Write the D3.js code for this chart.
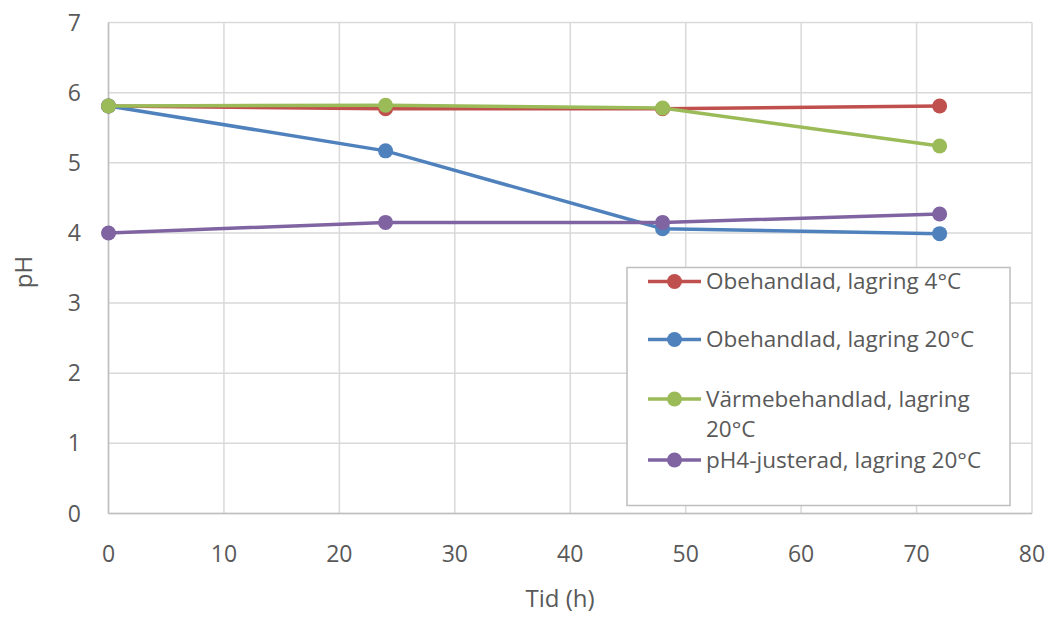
<!DOCTYPE html>
<html>
<head>
<meta charset="utf-8">
<script src="https://cdn.jsdelivr.net/npm/d3@7"></script>
<style>
  body { margin: 0; background: #fff; }
  text { font-family: "Open Sans", "Liberation Sans", sans-serif; fill: #595959; }
</style>
</head>
<body>
<script>
var hours = [0, 24, 48, 72];
var seriesNames = [
  'Obehandlad, lagring 4°C',
  'Obehandlad, lagring 20°C',
  'Värmebehandlad, lagring 20°C',
  'pH4-justerad, lagring 20°C'
];
var red = [5.81, 5.77, 5.77, 5.81];
var blue = [5.81, 5.17, 4.06, 3.99];
var green = [5.81, 5.82, 5.78, 5.24];
var purple = [4.0, 4.15, 4.15, 4.27];
var xTicks = [0, 10, 20, 30, 40, 50, 60, 70, 80];
var yTicks = [0, 1, 2, 3, 4, 5, 6, 7];
var colors = ['#C0504D', '#4F81BD', '#9BBB59', '#8064A2'];

var series = [red, blue, green, purple];
var w = 1049, h = 617;
var m = { left: 108.5, right: 1032, top: 22.5, bottom: 513.5 };

var svg = d3.select('body').append('svg').attr('width', w).attr('height', h);

var x = d3.scaleLinear().domain([0, 80]).range([m.left, m.right]);
var y = d3.scaleLinear().domain([0, 7]).range([m.bottom, m.top]);

// grid
svg.append('g').selectAll('line').data(xTicks).enter().append('line')
  .attr('x1', d => x(d)).attr('x2', d => x(d))
  .attr('y1', m.top).attr('y2', m.bottom)
  .attr('stroke', '#d9d9d9').attr('stroke-width', 1.5);
svg.append('g').selectAll('line').data(yTicks).enter().append('line')
  .attr('x1', m.left).attr('x2', m.right)
  .attr('y1', d => y(d)).attr('y2', d => y(d))
  .attr('stroke', '#d9d9d9').attr('stroke-width', 1.5);

// axis lines
svg.append('line').attr('x1', m.left).attr('x2', m.left).attr('y1', m.top).attr('y2', m.bottom)
  .attr('stroke', '#bfbfbf').attr('stroke-width', 1.5);
svg.append('line').attr('x1', m.left).attr('x2', m.right).attr('y1', m.bottom).attr('y2', m.bottom)
  .attr('stroke', '#bfbfbf').attr('stroke-width', 1.5);

// tick labels
svg.append('g').selectAll('text').data(yTicks).enter().append('text')
  .attr('x', 81).attr('y', d => y(d)).attr('dy', '0.35em')
  .attr('text-anchor', 'end').style('font-size', '23px').text(d => d);
svg.append('g').selectAll('text').data(xTicks).enter().append('text')
  .attr('x', d => x(d)).attr('y', 562)
  .attr('text-anchor', 'middle').style('font-size', '23px').text(d => d);

// axis titles
svg.append('text').attr('x', 560).attr('y', 607).attr('text-anchor', 'middle')
  .style('font-size', '24px').text('Tid (h)');
svg.append('text').attr('transform', 'translate(32,' + 272 + ') rotate(-90)')
  .attr('text-anchor', 'middle').style('font-size', '24px').text('pH');

// lines
var line = d3.line().x((d, i) => x(hours[i])).y(d => y(d));
series.forEach((s, k) => {
  svg.append('path').datum(s).attr('d', line)
    .attr('fill', 'none').attr('stroke', colors[k]).attr('stroke-width', 3.5);
  svg.append('g').selectAll('circle').data(s).enter().append('circle')
    .attr('cx', (d, i) => x(hours[i])).attr('cy', d => y(d)).attr('r', 7.5)
    .attr('fill', colors[k]);
});

// legend
var lg = svg.append('g');
lg.append('rect').attr('x', 627).attr('y', 267.5).attr('width', 383).attr('height', 238)
  .attr('fill', '#fff').attr('stroke', '#bfbfbf').attr('stroke-width', 1.5);
var rowY = [281.5, 339.5, 399, 460];
seriesNames.forEach((name, k) => {
  var g = lg.append('g');
  g.append('line').attr('x1', 648).attr('x2', 701).attr('y1', rowY[k]).attr('y2', rowY[k])
    .attr('stroke', colors[k]).attr('stroke-width', 3.5);
  g.append('circle').attr('cx', 674.5).attr('cy', rowY[k]).attr('r', 7.5).attr('fill', colors[k]);
  if (k === 2) {
    g.append('text').attr('x', 706).attr('y', rowY[k]).attr('dy', '0.35em')
      .style('font-size', '22.5px').text('Värmebehandlad, lagring');
    g.append('text').attr('x', 706).attr('y', rowY[k] + 30).attr('dy', '0.35em')
      .style('font-size', '22.5px').text('20°C');
  } else {
    g.append('text').attr('x', 706).attr('y', rowY[k]).attr('dy', '0.35em')
      .style('font-size', '22.5px').text(name);
  }
});
</script>
</body>
</html>
